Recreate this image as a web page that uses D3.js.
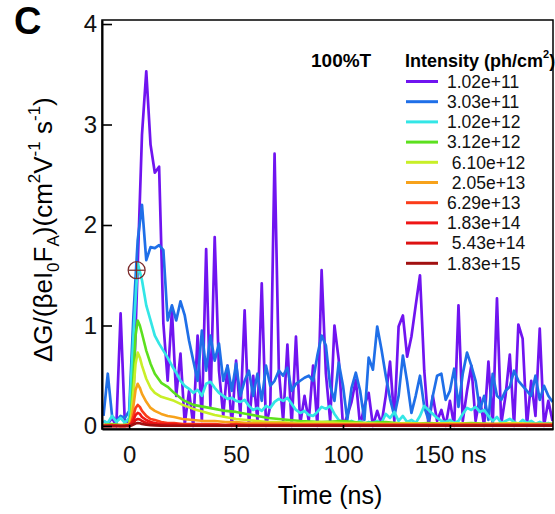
<!DOCTYPE html>
<html>
<head>
<meta charset="utf-8">
<script src="https://cdn.jsdelivr.net/npm/d3@7"></script>
<style>
  body { margin: 0; background: #fff; }
  svg { font-family: "Liberation Sans", Arial, sans-serif; }
</style>
</head>
<body>
<div id="chart"></div>
<script>
// sample times (ns) - noisy traces every 2 ns, smooth decays on a coarser grid
const tFull = [
  -12, -10, -8, -6, -4, -2, 0, 2, 4, 6,
  8, 10, 12, 14, 16, 18, 20, 22, 24, 26,
  28, 30, 32, 34, 36, 38, 40, 42, 44, 46,
  48, 50, 52, 54, 56, 58, 60, 62, 64, 66,
  68, 70, 72, 74, 76, 78, 80, 82, 84, 86,
  88, 90, 92, 94, 96, 98, 100, 102, 104, 106,
  108, 110, 112, 114, 116, 118, 120, 122, 124, 126,
  128, 130, 132, 134, 136, 138, 140, 142, 144, 146,
  148, 150, 152, 154, 156, 158, 160, 162, 164, 166,
  168, 170, 172, 174, 176, 178, 180, 182, 184, 186,
  188, 190, 192, 194, 196, 198
];
const tDecay = [
  -12, -8, -4, -2, 0, 1, 2, 3, 4, 5,
  6, 8, 10, 12, 15, 18, 21, 25, 30, 35,
  40, 45, 50, 55, 60, 65, 70, 80, 90, 100,
  110, 120, 130, 140, 150, 160, 170, 180, 190, 198
];

const purpleVals = [
  0.05, 0.02, 0.08, 0.0, 1.12, 0.02, 0.05, 0.3, 1.6, 2.9,
  3.53, 2.8, 2.52, 2.58, 1.02, 0.45, 1.15, 0.3, 0.72, 0.02,
  0.35, 0.0, 0.9, 0.05, 1.76, 0.2, 1.88, 0.55, 0.1, 0.6,
  0.0, 0.65, 0.1, 1.15, 0.0, 0.5, 0.05, 1.42, 0.0, 0.2,
  2.71, 0.55, 0.05, 0.81, 0.0, 0.89, 0.02, 0.3, 0.05, 0.6,
  0.0, 1.55, 0.52, 0.05, 1.0, 0.66, 0.0, 0.1, 0.24, 0.46,
  0.0, 0.2, 0.33, 0.0, 0.15, 0.02, 0.3, 0.64, 0.05, 0.99,
  1.10, 0.69, 0.89, 1.2, 1.50, 0.55, 0.0, 0.3, 0.05, 0.16,
  0.0, 0.25, 0.0, 1.2, 0.05, 0.35, 0.6, 0.05, 0.28, 0.0,
  0.64, 0.0, 1.27, 0.02, 0.3, 0.71, 0.0, 1.01, 0.87, 0.0,
  0.45, 0.1, 0.97, 0.0, 0.25, 0.05
];
const blueVals = [
  0.1, 0.52, 0.1, 0.05, 0.1, 0.08, 0.15, 1.1, 1.85, 2.2,
  1.65, 1.78, 1.77, 1.8, 1.75, 1.05, 1.2, 1.05, 1.24, 1.1,
  0.85, 0.65, 0.45, 0.95, 0.55, 0.9, 0.65, 0.82, 0.45, 0.6,
  0.35, 0.62, 0.3, 0.45, 0.55, 0.3, 0.52, 0.25, 0.6, 0.4,
  0.45, 0.55, 0.5, 0.58, 0.35, 0.42, 0.45, 0.48, 0.5, 0.45,
  0.7, 0.9, 0.8, 0.4, 0.25, 0.63, 0.4, 0.06, 0.38, 0.53,
  0.35, 0.06, 0.68, 0.56, 0.99, 0.76, 0.5, 0.27, 0.1, 0.3,
  0.7, 0.44, 0.13, 0.3, 0.5, 0.19, 0.06, 0.3, 0.5, 0.52,
  0.26, 0.35, 0.57, 0.19, 0.52, 0.73, 0.6, 0.45, 0.16, 0.3,
  0.06, 0.52, 0.3, 0.26, 0.35, 0.39, 0.55, 0.45, 0.4, 0.35,
  0.3, 0.5, 0.26, 0.4, 0.3, 0.24
];
const cyanVals = [
  0.05, 0.03, 0.1, 0.04, 0.08, 0.03, 0.08, 0.9, 1.62, 1.45,
  1.2, 1.05, 0.9, 0.82, 0.75, 0.68, 0.6, 0.53, 0.45, 0.4,
  0.37, 0.33, 0.36, 0.3, 0.42, 0.44, 0.38, 0.33, 0.3, 0.27,
  0.28, 0.25, 0.24, 0.26, 0.2, 0.16, 0.18, 0.15, 0.2, 0.18,
  0.24, 0.27, 0.25, 0.28, 0.22, 0.16, 0.13, 0.15, 0.11, 0.1,
  0.14, 0.19, 0.17, 0.2, 0.12, 0.06, 0.04, 0.02, 0.05, 0.03,
  0.05, 0.02, 0.04, 0.03, 0.05, 0.03, 0.12, 0.08, 0.14, 0.05,
  0.1, 0.04, 0.06, 0.03, 0.1, 0.2, 0.16, 0.12, 0.08, 0.05,
  0.04, 0.06, 0.03, 0.05, 0.12, 0.18, 0.16, 0.19, 0.14, 0.16,
  0.1, 0.05, 0.09, 0.03, 0.05, 0.07, 0.04, 0.02, 0.06, 0.03,
  0.05, 0.02, 0.04, 0.02, 0.03, 0.02
];
const greenVals = [
  0.01, 0.02, 0.01, 0.01, 0.02, 0.15, 0.5, 0.9, 1.05, 1.0,
  0.92, 0.75, 0.62, 0.52, 0.43, 0.39, 0.33, 0.26, 0.21, 0.19,
  0.17, 0.15, 0.14, 0.12, 0.1, 0.08, 0.07, 0.05, 0.04, 0.05,
  0.03, 0.04, 0.02, 0.03, 0.02, 0.03, 0.02, 0.02, 0.02, 0.02
];
const yellowVals = [
  0.01, 0.01, 0.01, 0.01, 0.02, 0.1, 0.35, 0.62, 0.73, 0.68,
  0.6, 0.47, 0.38, 0.33, 0.29, 0.27, 0.25, 0.21, 0.17, 0.14,
  0.11, 0.09, 0.07, 0.06, 0.05, 0.04, 0.04, 0.03, 0.04, 0.03,
  0.03, 0.02, 0.03, 0.02, 0.03, 0.02, 0.02, 0.03, 0.02, 0.02
];
const orangeVals = [
  0.01, 0.01, 0.0, 0.01, 0.01, 0.05, 0.2, 0.36, 0.42, 0.38,
  0.32, 0.24, 0.18, 0.15, 0.12, 0.1, 0.09, 0.07, 0.06, 0.05,
  0.05, 0.04, 0.04, 0.03, 0.03, 0.03, 0.03, 0.02, 0.02, 0.02,
  0.02, 0.02, 0.02, 0.02, 0.02, 0.02, 0.02, 0.02, 0.02, 0.02
];
const redOrangeVals = [
  0.0, 0.01, 0.0, 0.0, 0.01, 0.03, 0.1, 0.18, 0.21, 0.19,
  0.15, 0.1, 0.07, 0.06, 0.04, 0.03, 0.03, 0.02, 0.02, 0.02,
  0.02, 0.01, 0.02, 0.01, 0.01, 0.01, 0.01, 0.01, 0.01, 0.01,
  0.01, 0.01, 0.01, 0.01, 0.01, 0.01, 0.01, 0.01, 0.01, 0.01
];
const redVals = [
  0.0, 0.0, 0.0, 0.0, 0.01, 0.02, 0.06, 0.11, 0.13, 0.12,
  0.09, 0.06, 0.04, 0.03, 0.02, 0.02, 0.02, 0.01, 0.01, 0.01,
  0.01, 0.01, 0.01, 0.01, 0.01, 0.01, 0.01, 0.01, 0.01, 0.01,
  0.01, 0.01, 0.01, 0.01, 0.01, 0.01, 0.01, 0.01, 0.01, 0.01
];
const crimsonVals = [
  0.0, 0.0, 0.0, 0.0, 0.0, 0.01, 0.03, 0.06, 0.07, 0.065,
  0.05, 0.03, 0.02, 0.015, 0.01, 0.01, 0.01, 0.005, 0.005, 0.005,
  0.005, 0.005, 0.005, 0.005, 0.005, 0.005, 0.005, 0.005, 0.005, 0.005,
  0.005, 0.005, 0.005, 0.005, 0.005, 0.005, 0.005, 0.005, 0.005, 0.005
];
const darkRedVals = [
  0.0, 0.0, 0.0, 0.0, 0.0, 0.005, 0.015, 0.025, 0.03, 0.028,
  0.02, 0.012, 0.008, 0.006, 0.004, 0.003, 0.003, 0.002, 0.002, 0.002,
  0.002, 0.002, 0.002, 0.002, 0.002, 0.002, 0.002, 0.002, 0.002, 0.002,
  0.002, 0.002, 0.002, 0.002, 0.002, 0.002, 0.002, 0.002, 0.002, 0.002
];

const seriesLabels = ["1.02e+11", "3.03e+11", "1.02e+12", "3.12e+12", " 6.10e+12",
                      " 2.05e+13", "6.29e+13", "1.83e+14", " 5.43e+14", "1.83e+15"];
const seriesTimes = [tFull, tFull, tFull, tDecay, tDecay, tDecay, tDecay, tDecay, tDecay, tDecay];
const seriesValues = [purpleVals, blueVals, cyanVals, greenVals, yellowVals,
                      orangeVals, redOrangeVals, redVals, crimsonVals, darkRedVals];
const seriesColors = ["#7014f0", "#1f6fe8", "#33e6e6", "#5ce01e", "#c8ef28",
                      "#f7a21b", "#fb3c1a", "#ef1515", "#dd1212", "#a11010"];

const yTicks = [0, 1, 2, 3, 4];
const xTicks = [0, 50, 100, 150];
const markerPoint = [3.5, 1.55];

const width = 555;
const height = 514;
const plot = { left: 102, right: 553, top: 20, bottom: 429 };

const svg = d3.select("#chart")
    .append("svg")
    .attr("width", width)
    .attr("height", height);

const xScale = d3.scaleLinear().domain([-12.7, 198.2]).range([plot.left, plot.right]);
const yScale = d3.scaleLinear().domain([-0.03, 4.04]).range([plot.bottom, plot.top]);

svg.append("clipPath").attr("id", "plotClip")
    .append("rect")
    .attr("x", plot.left).attr("y", plot.top)
    .attr("width", plot.right - plot.left)
    .attr("height", plot.bottom - plot.top);

const line = d3.line()
    .x(d => xScale(d[0]))
    .y(d => yScale(d[1]));

svg.append("g")
    .attr("clip-path", "url(#plotClip)")
    .selectAll("path")
    .data(seriesValues.map((vals, i) => d3.zip(seriesTimes[i], vals)))
    .join("path")
    .attr("d", line)
    .attr("fill", "none")
    .attr("stroke", (d, i) => seriesColors[i])
    .attr("stroke-width", (d, i) => i < 3 ? 2.7 : 2.6)
    .attr("stroke-linejoin", "round");

// crosshair marker
const mk = svg.append("g")
    .attr("transform", `translate(${xScale(markerPoint[0])},${yScale(markerPoint[1])})`)
    .attr("fill", "none").attr("stroke", "#7a2a2a").attr("stroke-width", 1.2);
mk.append("circle").attr("r", 8.5);
mk.append("line").attr("x1", -8.5).attr("x2", 8.5);
mk.append("line").attr("y1", -8.5).attr("y2", 8.5);

// frame
svg.append("rect")
    .attr("x", plot.left).attr("y", plot.top)
    .attr("width", plot.right - plot.left)
    .attr("height", plot.bottom - plot.top)
    .attr("fill", "none").attr("stroke", "#000").attr("stroke-width", 1.5);

const yAxis = svg.append("g")
    .attr("transform", `translate(${plot.left},0)`)
    .call(d3.axisLeft(yScale).tickValues(yTicks).tickSizeInner(-10).tickSizeOuter(0)
        .tickPadding(5).tickFormat(d3.format("d")));

const xAxis = svg.append("g")
    .attr("transform", `translate(0,${plot.bottom})`)
    .call(d3.axisBottom(xScale).tickValues(xTicks).tickSizeInner(-4).tickSizeOuter(0)
        .tickPadding(17).tickFormat(d => d === 150 ? "150 ns" : d));

[xAxis, yAxis].forEach(ax => {
    ax.select(".domain").attr("stroke-width", 2).attr("stroke", "#000");
    ax.selectAll(".tick line").attr("stroke-width", 1.6).attr("stroke", "#000");
    ax.selectAll("text")
        .style("font-family", "'Liberation Sans', Arial, sans-serif")
        .style("font-size", "24px")
        .attr("fill", "#111");
});

// panel letter
svg.append("text")
    .attr("x", 14).attr("y", 34)
    .style("font-size", "38px").style("font-weight", "bold")
    .text("C");

// axis titles
svg.append("text")
    .attr("x", 330).attr("y", 504)
    .attr("text-anchor", "middle")
    .style("font-size", "25px")
    .text("Time (ns)");

const yTitle = svg.append("text")
    .attr("transform", "translate(52,362) rotate(-90)")
    .style("font-size", "26px");
const yParts = [
    ["ΔG/(βeI", 0], ["0", 1], ["F", 0], ["A", 1], [")(cm", 0], ["2", -1],
    ["V", 0], ["-1", -1], [" s", 0], ["-1", -1], [")", 0]
];
let prevShift = 0;
yParts.forEach(([txt, kind]) => {
    const shift = kind === 1 ? 7 : kind === -1 ? -12 : 0;
    yTitle.append("tspan")
        .attr("dy", shift - prevShift)
        .style("font-size", kind === 0 ? "26px" : "17px")
        .text(txt);
    prevShift = shift;
});

// legend
svg.append("text")
    .attr("x", 311).attr("y", 67)
    .style("font-size", "19px").style("font-weight", "bold")
    .text("100%T");

const legTitle = svg.append("text")
    .attr("x", 405).attr("y", 67)
    .style("font-size", "18px").style("font-weight", "bold");
legTitle.append("tspan").text("Intensity (ph/cm");
legTitle.append("tspan").attr("dy", -9).style("font-size", "11px").text("2");
legTitle.append("tspan").attr("dy", 9).text(")");

const legend = svg.append("g")
    .selectAll("g")
    .data(seriesLabels)
    .join("g")
    .attr("transform", (d, i) => `translate(0,${81.5 + i * 20.2})`);

legend.append("line")
    .attr("x1", 406).attr("x2", 438)
    .attr("stroke", (d, i) => seriesColors[i])
    .attr("stroke-width", 3);

legend.append("text")
    .attr("x", 447).attr("dy", "0.36em")
    .style("font-size", "17.5px")
    .style("white-space", "pre")
    .attr("fill", "#111")
    .text(d => d);
</script>
</body>
</html>
